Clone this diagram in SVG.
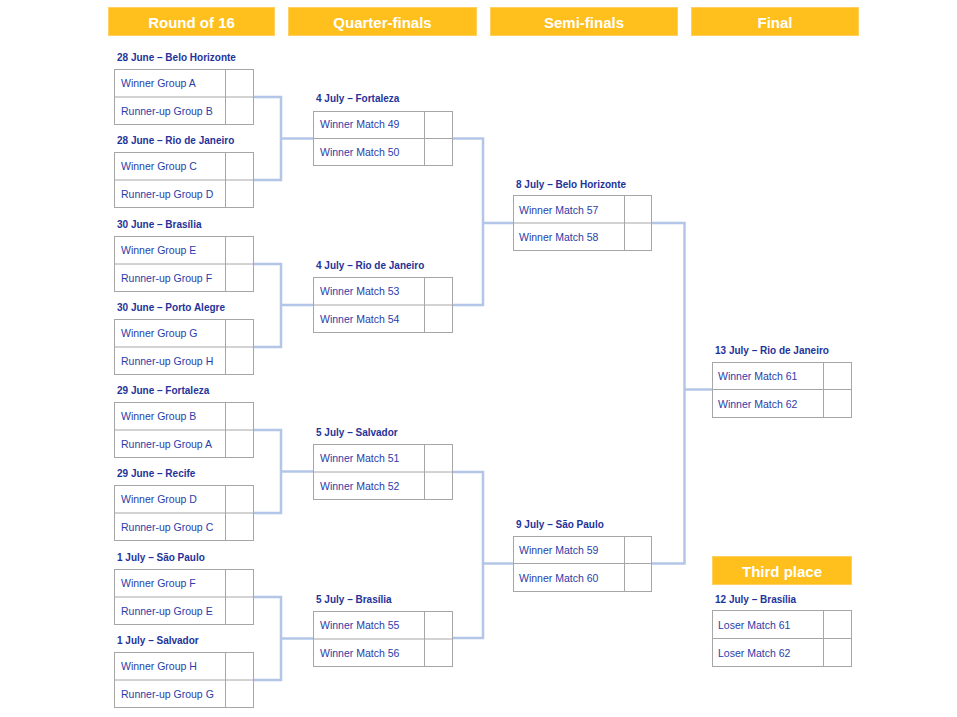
<svg xmlns="http://www.w3.org/2000/svg" width="957" height="717" viewBox="0 0 957 717">
<style>
.hdr{fill:#FFC01E;stroke:#FFD060;stroke-width:1}
.ht{font-family:"Liberation Sans",Arial,sans-serif;font-weight:bold;font-size:15px;fill:#ffffff;text-anchor:middle}
.lbl{font-family:"Liberation Sans",Arial,sans-serif;font-weight:bold;font-size:10px;fill:#1F3399}
.cell{fill:#ffffff;stroke:#A6A6A6;stroke-width:1}
.ct{font-family:"Liberation Sans",Arial,sans-serif;font-size:10.5px;fill:#2B3DA8}
.con{fill:none;stroke:#B4C6E7;stroke-width:2.5}
</style>
<rect width="957" height="717" fill="#ffffff"/>
<g id="headers">
<g id="h-r16"><rect class="hdr" x="108.5" y="7.5" width="166" height="28"/><text class="ht" x="191.5" y="27.5">Round of 16</text></g>
<g id="h-qf"><rect class="hdr" x="288.5" y="7.5" width="188" height="28"/><text class="ht" x="382.5" y="27.5">Quarter-finals</text></g>
<g id="h-sf"><rect class="hdr" x="490.5" y="7.5" width="187" height="28"/><text class="ht" x="584" y="27.5">Semi-finals</text></g>
<g id="h-f"><rect class="hdr" x="691.5" y="7.5" width="167" height="28"/><text class="ht" x="775" y="27.5">Final</text></g>
<g id="h-3rd"><rect class="hdr" x="712.5" y="556.5" width="139" height="28"/><text class="ht" x="782" y="576.5">Third place</text></g>
</g>
<g id="connectors">
<path class="con" d="M253 97 H281 V180 H253 M281 138.5 H313"/>
<path class="con" d="M253 264 H281 V347 H253 M281 305 H313"/>
<path class="con" d="M253 430 H281 V513 H253 M281 471.5 H313"/>
<path class="con" d="M253 597 H281 V680 H253 M281 638.5 H313"/>
<path class="con" d="M452 138.5 H483 V305 H452 M483 223 H513"/>
<path class="con" d="M452 472 H483 V638 H452 M483 563.5 H513"/>
<path class="con" d="M651 223 H684.5 V563.5 H651 M684.5 389.5 H712"/>
</g>
<g id="m49">
<text class="lbl" x="117" y="61">28 June – Belo Horizonte</text>
<rect class="cell" x="114.5" y="69.5" width="139" height="55"/><line class="cell" x1="114.5" y1="97" x2="253.5" y2="97"/><line class="cell" x1="225.5" y1="69.5" x2="225.5" y2="124.5"/>
<text class="ct" x="121" y="87">Winner Group A</text><text class="ct" x="121" y="115">Runner-up Group B</text>
</g>
<g id="m50">
<text class="lbl" x="117" y="144">28 June – Rio de Janeiro</text>
<rect class="cell" x="114.5" y="152.5" width="139" height="55"/><line class="cell" x1="114.5" y1="180" x2="253.5" y2="180"/><line class="cell" x1="225.5" y1="152.5" x2="225.5" y2="207.5"/>
<text class="ct" x="121" y="170">Winner Group C</text><text class="ct" x="121" y="198">Runner-up Group D</text>
</g>
<g id="m53">
<text class="lbl" x="117" y="228">30 June – Brasília</text>
<rect class="cell" x="114.5" y="236.5" width="139" height="55"/><line class="cell" x1="114.5" y1="264" x2="253.5" y2="264"/><line class="cell" x1="225.5" y1="236.5" x2="225.5" y2="291.5"/>
<text class="ct" x="121" y="254">Winner Group E</text><text class="ct" x="121" y="282">Runner-up Group F</text>
</g>
<g id="m54">
<text class="lbl" x="117" y="311">30 June – Porto Alegre</text>
<rect class="cell" x="114.5" y="319.5" width="139" height="55"/><line class="cell" x1="114.5" y1="347" x2="253.5" y2="347"/><line class="cell" x1="225.5" y1="319.5" x2="225.5" y2="374.5"/>
<text class="ct" x="121" y="337">Winner Group G</text><text class="ct" x="121" y="365">Runner-up Group H</text>
</g>
<g id="m51">
<text class="lbl" x="117" y="394">29 June – Fortaleza</text>
<rect class="cell" x="114.5" y="402.5" width="139" height="55"/><line class="cell" x1="114.5" y1="430" x2="253.5" y2="430"/><line class="cell" x1="225.5" y1="402.5" x2="225.5" y2="457.5"/>
<text class="ct" x="121" y="420">Winner Group B</text><text class="ct" x="121" y="448">Runner-up Group A</text>
</g>
<g id="m52">
<text class="lbl" x="117" y="477">29 June – Recife</text>
<rect class="cell" x="114.5" y="485.5" width="139" height="55"/><line class="cell" x1="114.5" y1="513" x2="253.5" y2="513"/><line class="cell" x1="225.5" y1="485.5" x2="225.5" y2="540.5"/>
<text class="ct" x="121" y="503">Winner Group D</text><text class="ct" x="121" y="531">Runner-up Group C</text>
</g>
<g id="m55">
<text class="lbl" x="117" y="561">1 July – São Paulo</text>
<rect class="cell" x="114.5" y="569.5" width="139" height="55"/><line class="cell" x1="114.5" y1="597" x2="253.5" y2="597"/><line class="cell" x1="225.5" y1="569.5" x2="225.5" y2="624.5"/>
<text class="ct" x="121" y="587">Winner Group F</text><text class="ct" x="121" y="615">Runner-up Group E</text>
</g>
<g id="m56">
<text class="lbl" x="117" y="644">1 July – Salvador</text>
<rect class="cell" x="114.5" y="652.5" width="139" height="55"/><line class="cell" x1="114.5" y1="680" x2="253.5" y2="680"/><line class="cell" x1="225.5" y1="652.5" x2="225.5" y2="707.5"/>
<text class="ct" x="121" y="670">Winner Group H</text><text class="ct" x="121" y="698">Runner-up Group G</text>
</g>
<g id="m57">
<text class="lbl" x="316" y="102">4 July – Fortaleza</text>
<rect class="cell" x="313.5" y="111.5" width="139" height="54"/><line class="cell" x1="313.5" y1="138.5" x2="452.5" y2="138.5"/><line class="cell" x1="424.5" y1="111.5" x2="424.5" y2="165.5"/>
<text class="ct" x="320" y="128">Winner Match 49</text><text class="ct" x="320" y="156">Winner Match 50</text>
</g>
<g id="m58">
<text class="lbl" x="316" y="269">4 July – Rio de Janeiro</text>
<rect class="cell" x="313.5" y="277.5" width="139" height="55"/><line class="cell" x1="313.5" y1="305" x2="452.5" y2="305"/><line class="cell" x1="424.5" y1="277.5" x2="424.5" y2="332.5"/>
<text class="ct" x="320" y="295">Winner Match 53</text><text class="ct" x="320" y="323">Winner Match 54</text>
</g>
<g id="m59">
<text class="lbl" x="316" y="436">5 July – Salvador</text>
<rect class="cell" x="313.5" y="444.5" width="139" height="55"/><line class="cell" x1="313.5" y1="472" x2="452.5" y2="472"/><line class="cell" x1="424.5" y1="444.5" x2="424.5" y2="499.5"/>
<text class="ct" x="320" y="462">Winner Match 51</text><text class="ct" x="320" y="490">Winner Match 52</text>
</g>
<g id="m60">
<text class="lbl" x="316" y="603">5 July – Brasília</text>
<rect class="cell" x="313.5" y="611.5" width="139" height="55"/><line class="cell" x1="313.5" y1="639" x2="452.5" y2="639"/><line class="cell" x1="424.5" y1="611.5" x2="424.5" y2="666.5"/>
<text class="ct" x="320" y="629">Winner Match 55</text><text class="ct" x="320" y="657">Winner Match 56</text>
</g>
<g id="m61">
<text class="lbl" x="516" y="188">8 July – Belo Horizonte</text>
<rect class="cell" x="513.5" y="195.5" width="138" height="55"/><line class="cell" x1="513.5" y1="223" x2="651.5" y2="223"/><line class="cell" x1="624.5" y1="195.5" x2="624.5" y2="250.5"/>
<text class="ct" x="519" y="214">Winner Match 57</text><text class="ct" x="519" y="241">Winner Match 58</text>
</g>
<g id="m62">
<text class="lbl" x="516" y="528">9 July – São Paulo</text>
<rect class="cell" x="513.5" y="536.5" width="138" height="55"/><line class="cell" x1="513.5" y1="563.5" x2="651.5" y2="563.5"/><line class="cell" x1="624.5" y1="536.5" x2="624.5" y2="591.5"/>
<text class="ct" x="519" y="554">Winner Match 59</text><text class="ct" x="519" y="582">Winner Match 60</text>
</g>
<g id="m64">
<text class="lbl" x="715" y="354">13 July – Rio de Janeiro</text>
<rect class="cell" x="712.5" y="362.5" width="139" height="55"/><line class="cell" x1="712.5" y1="389.5" x2="851.5" y2="389.5"/><line class="cell" x1="823.5" y1="362.5" x2="823.5" y2="417.5"/>
<text class="ct" x="718" y="380">Winner Match 61</text><text class="ct" x="718" y="408">Winner Match 62</text>
</g>
<g id="m63">
<text class="lbl" x="715" y="603">12 July – Brasília</text>
<rect class="cell" x="712.5" y="610.5" width="139" height="56"/><line class="cell" x1="712.5" y1="638.5" x2="851.5" y2="638.5"/><line class="cell" x1="823.5" y1="610.5" x2="823.5" y2="666.5"/>
<text class="ct" x="718" y="629">Loser Match 61</text><text class="ct" x="718" y="657">Loser Match 62</text>
</g>
</svg>
